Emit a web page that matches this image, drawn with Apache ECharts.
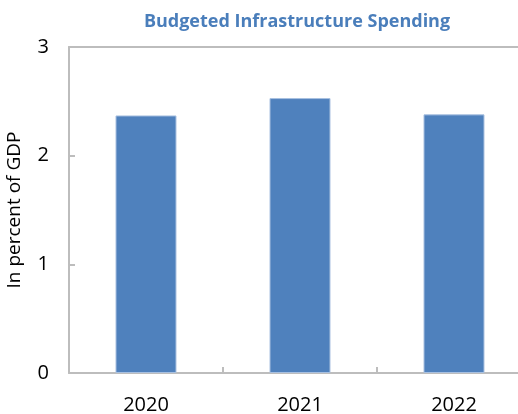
<!DOCTYPE html>
<html><head><meta charset="utf-8">
<script src="https://cdn.jsdelivr.net/npm/echarts@6/dist/echarts.min.js"></script>
<style>html,body{margin:0;padding:0;background:#fff;overflow:hidden}#c{width:518px;height:414px}</style>
</head><body><div id="c"></div>
<script>
var categories = ['2020', '2021', '2022'];
var spending = [2.37, 2.53, 2.38];
var yTicks = [0, 1, 2, 3];

var chart = echarts.init(document.getElementById('c'), null, {renderer: 'canvas'});
var font = '"Open Sans", "Noto Sans", sans-serif';
var axisGrey = '#BDBDBD';
chart.setOption({
  animation: false,
  title: {
    text: 'Budgeted Infrastructure Spending',
    left: 292, textAlign: 'center', top: 8,
    textStyle: {fontFamily: font, fontWeight: 'bold', fontSize: 18, color: '#4A7EBB'}
  },
  grid: {left: 69, top: 47, width: 462, height: 326, outerBoundsMode: 'none', containLabel: false, show: false},
  xAxis: [{
    type: 'category', data: categories,
    axisLine: {lineStyle: {color: axisGrey, width: 2}},
    axisTick: {show: true, inside: true, length: 6, lineStyle: {color: axisGrey, width: 2}},
    axisLabel: {fontFamily: font, fontSize: 20, color: '#000', margin: 22}
  }, {
    type: 'category', data: categories, position: 'top',
    axisLine: {show: true, lineStyle: {color: axisGrey, width: 2}},
    axisTick: {show: false}, axisLabel: {show: false}
  }],
  yAxis: {
    type: 'value', min: yTicks[0], max: yTicks[yTicks.length - 1], interval: 1,
    name: 'In percent of GDP', nameLocation: 'middle', nameGap: 45,
    nameTextStyle: {fontFamily: font, fontSize: 19, color: '#000'},
    axisLine: {show: true, lineStyle: {color: axisGrey, width: 2}},
    axisTick: {show: true, inside: true, length: 6, lineStyle: {color: axisGrey, width: 2}},
    splitLine: {show: false},
    axisLabel: {fontFamily: font, fontSize: 20, color: '#000', margin: 20}
  },
  series: [{
    type: 'bar', data: spending, barWidth: '39.6%', xAxisIndex: 0,
    itemStyle: {color: '#4F81BD', borderColor: '#A8C0E0', borderWidth: 1}
  }]
});
</script></body></html>
